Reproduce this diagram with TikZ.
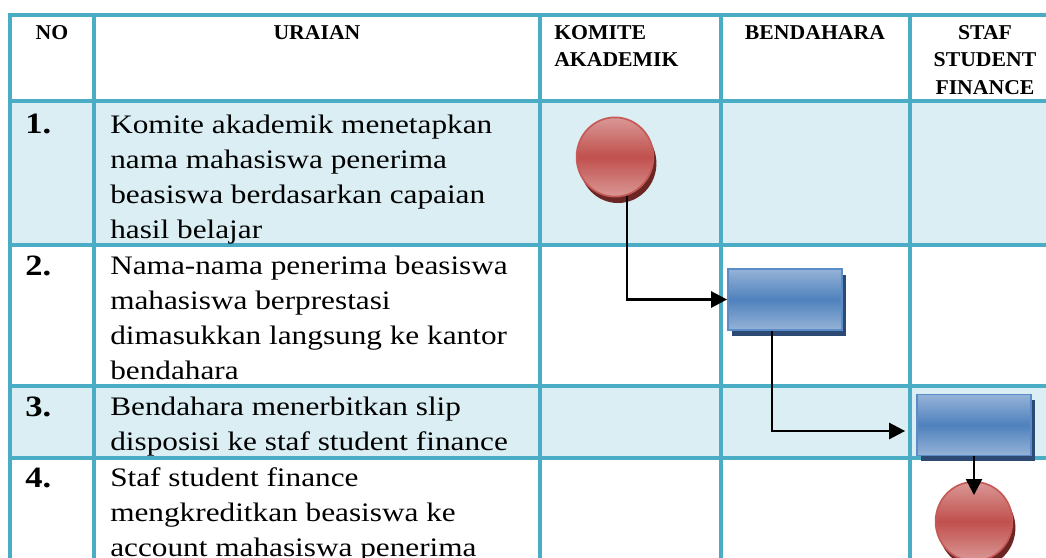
\documentclass[tikz,border=0pt]{standalone}
\usepackage{fontspec}
\setmainfont{Liberation Serif}[FakeStretch=1.17]
\newfontfamily\headfont{Liberation Serif}[FakeStretch=1.03]
\usepackage{xcolor}
\usetikzlibrary{positioning,shapes.geometric,arrows.meta,shadows}

\definecolor{gridblue}{HTML}{4BACC6}
\definecolor{rowblue}{HTML}{DAEEF3}
\definecolor{boxlight}{HTML}{95B3D7}
\definecolor{boxmid}{HTML}{4F81BD}
\definecolor{boxedge}{HTML}{5B8CC8}
\definecolor{boxshade}{HTML}{2C4A74}
\definecolor{dotlight}{HTML}{DA9896}
\definecolor{dotmid}{HTML}{C0504D}
\definecolor{dotedge}{HTML}{C55A57}
\definecolor{dotshade}{HTML}{6B2624}

\begin{document}
\begin{tikzpicture}[
    x=0.025cm, y=-0.025cm,
    grid/.style={gridblue, line width=2.3pt},
    head/.style={inner sep=0pt, font=\headfont\bfseries\fontsize{15}{19.6}\selectfont},
    num/.style={inner sep=0pt, anchor=base west, font=\bfseries\fontsize{21}{24}\selectfont},
    uraian/.style={inner sep=0pt, anchor=north west, align=left, font=\fontsize{19}{24.9}\selectfont},
    dot/.style={ellipse, minimum width=1.92cm, minimum height=1.98cm, inner sep=0pt, draw=dotedge, line width=1.2pt,
        top color=dotlight, bottom color=dotlight, middle color=dotmid,
        drop shadow={shadow xshift=0.075cm, shadow yshift=-0.16cm, fill=dotshade, opacity=1}},
    task/.style={rectangle, minimum width=2.85cm, minimum height=1.525cm, inner sep=0pt, draw=boxedge, line width=1.2pt,
        top color=boxlight, bottom color=boxlight, middle color=boxmid,
        drop shadow={shadow xshift=0.09cm, shadow yshift=-0.14cm, fill=boxshade, opacity=1}},
    flow/.style={-{Triangle[length=0.4cm,width=0.4cm]}, line width=1.8pt}
]
\clip (0,0) rectangle (1046,558);
% Row shading
\fill[rowblue] (10,101) rectangle (1050,245);
\fill[rowblue] (10,386) rectangle (1050,458);
% Grid
\draw[grid] (10,560) -- (10,15) -- (1050,15);
\foreach \x in {94,540,721,910}
    \draw[grid] (\x,15) -- (\x,560);
\foreach \y in {245,386,458}
    \draw[grid] (10,\y) -- (1050,\y);
\draw[grid, line width=3pt] (10,101) -- (1050,101);
% Header
\node[head, anchor=north] (no) at (52,25) {NO};
\node[head, anchor=north] (uraian) at (317,25) {URAIAN};
\node[head, anchor=north west, align=left] (komite) at (554,25) {KOMITE\\AKADEMIK};
\node[head, anchor=north] (bendahara) at (815,25) {BENDAHARA};
\node[head, anchor=north, align=center] (staf) at (985,25) {STAF\\STUDENT\\FINANCE};
% Steps
\node[num] (n1) at (25,134) {1.};
\node[uraian] (u1) at (110,115) {Komite akademik menetapkan\\nama mahasiswa penerima\\beasiswa berdasarkan capaian\\hasil belajar};
\node[num] (n2) at (25,275) {2.};
\node[uraian] (u2) at (110,256) {Nama-nama penerima beasiswa\\mahasiswa berprestasi\\dimasukkan langsung ke kantor\\bendahara};
\node[num] (n3) at (25,416) {3.};
\node[uraian] (u3) at (110,397) {Bendahara menerbitkan slip\\disposisi ke staf student finance};
\node[num] (n4) at (25,487) {4.};
\node[uraian] (u4) at (110,467) {Staf student finance\\mengkreditkan beasiswa ke\\account mahasiswa penerima};
% Flow shapes
\node[dot] (dot1) at (615,157) {};
\node[task] (task1) at (785,299.5) {};
\node[task] (task2) at (974,425) {};
\node[dot] (dot2) at (974,521.5) {};
% Arrows
\draw[flow] (dot1.-73) |- (task1.west);
\draw[flow] ([xshift=-0.325cm]task1.south) |- ([xshift=-0.275cm,yshift=-0.15cm]task2.west);
\draw[flow, shorten >=-0.35cm] (task2.south) -- (dot2.north);
\end{tikzpicture}
\end{document}
